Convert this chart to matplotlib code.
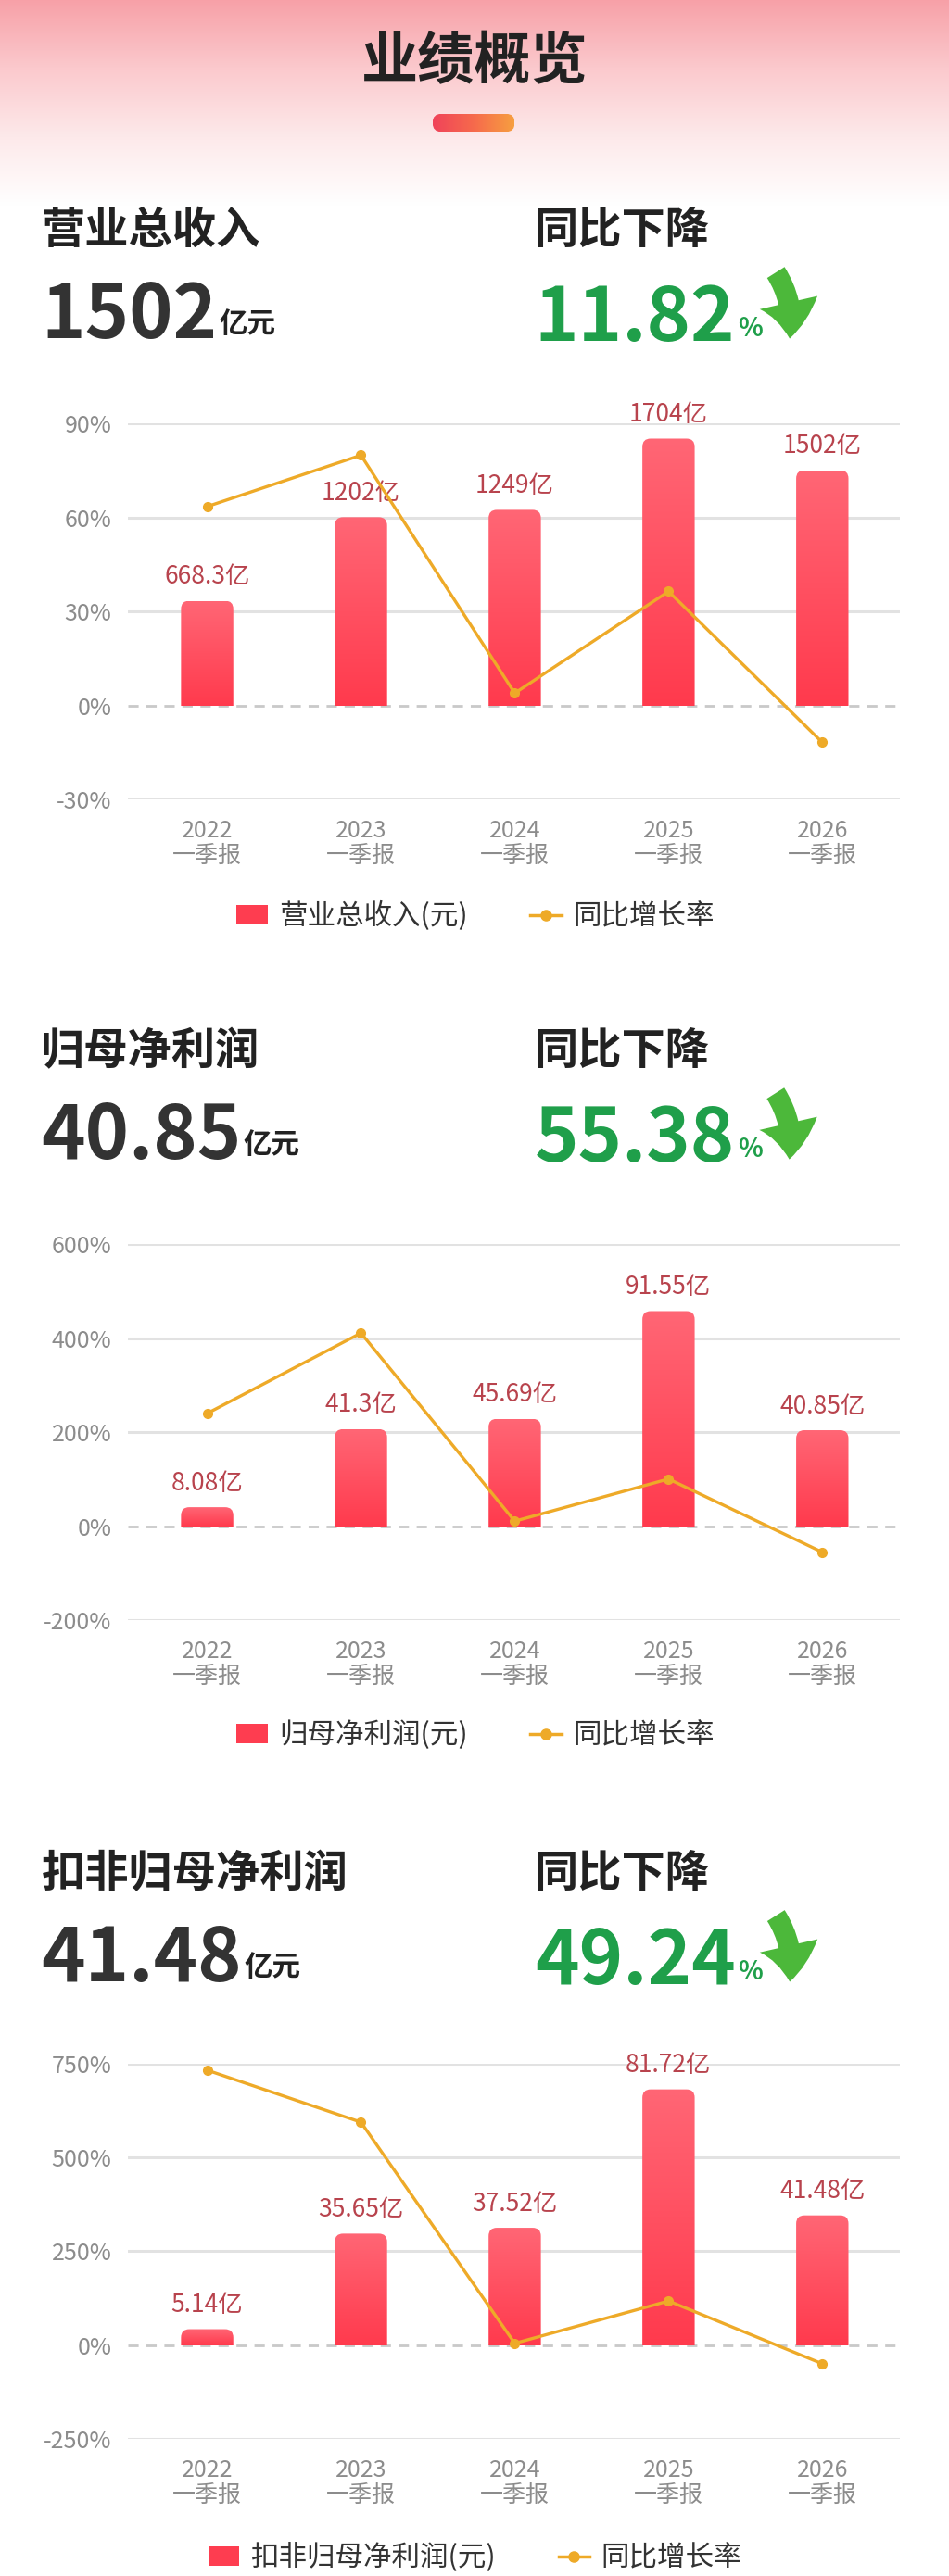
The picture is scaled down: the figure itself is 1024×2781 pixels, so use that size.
import numpy as np
import matplotlib
matplotlib.use('Agg')
import matplotlib.pyplot as plt
from matplotlib.colors import LinearSegmentedColormap
from matplotlib.patches import Patch, FancyBboxPatch, FancyArrowPatch
from matplotlib.lines import Line2D

plt.rcParams['font.family'] = ['Noto Sans CJK SC', 'DejaVu Sans']

# 数据
quarters = ['2022\n一季报', '2023\n一季报', '2024\n一季报', '2025\n一季报', '2026\n一季报']

revenue = [668.3, 1202, 1249, 1704, 1502]
revenue_labels = ['668.3亿', '1202亿', '1249亿', '1704亿', '1502亿']
revenue_yoy = [63.5, 79.9, 3.9, 36.4, -11.82]
revenue_ticks = [-30, 0, 30, 60, 90]

profit = [8.08, 41.3, 45.69, 91.55, 40.85]
profit_labels = ['8.08亿', '41.3亿', '45.69亿', '91.55亿', '40.85亿']
profit_yoy = [240, 411.1, 10.6, 100.4, -55.38]
profit_ticks = [-200, 0, 200, 400, 600]

deducted = [5.14, 35.65, 37.52, 81.72, 41.48]
deducted_labels = ['5.14亿', '35.65亿', '37.52亿', '81.72亿', '41.48亿']
deducted_yoy = [732, 593.6, 5.2, 117.8, -49.24]
deducted_ticks = [-250, 0, 250, 500, 750]

titles = ['营业总收入', '归母净利润', '扣非归母净利润']
values = ['1502', '40.85', '41.48']
changes = ['11.82', '55.38', '49.24']
legend_names = ['营业总收入(元)', '归母净利润(元)', '扣非归母净利润(元)']

# 参照图坐标 (577 x 1563) -> figure 比例
W, H = 577, 1563
def fx(x):
    return x / W
def fy(y):
    return 1 - y / H

RED = '#fe3d50'
ORANGE = '#eeaa28'
GREEN = '#1f9f4a'
GRAY = '#8c8c8c'

fig = plt.figure(figsize=(10.24, 27.81), dpi=100, facecolor='white')

# 顶部渐变背景
bg = fig.add_axes([0, fy(125), 1, 125 / H], zorder=0)
cmap_bg = LinearSegmentedColormap.from_list('bg', ['#f7a0a7', '#fbc9cd', '#fde9ea', '#ffffff'])
bg.imshow(np.linspace(0, 1, 256).reshape(-1, 1), aspect='auto', cmap=cmap_bg, extent=[0, 1, 0, 1])
bg.axis('off')

fig.text(0.5, fy(38), '业绩概览', fontsize=44, weight='bold', color='#222222', ha='center', va='center')

# 标题下方的小药丸
pax = fig.add_axes([fx(263), fy(80), fx(313) - fx(263), 11 / H], zorder=1)
cmap_pill = LinearSegmentedColormap.from_list('pill', ['#f0435a', '#f66a4c', '#f7a040'])
pim = pax.imshow(np.linspace(0, 1, 256).reshape(1, -1), aspect='auto', cmap=cmap_pill, extent=[0, 1, 0, 1])
pill = FancyBboxPatch((0, 0), 1, 1, boxstyle='round,pad=0,rounding_size=0.11',
                      mutation_aspect=50 / 11, transform=pax.transData, facecolor='none', edgecolor='none')
pax.add_patch(pill)
pim.set_clip_path(pill)
pax.set_xlim(0, 1)
pax.set_ylim(0, 1)
pax.axis('off')

renderer = fig.canvas.get_renderer()

def header(title, value, change, ytitle, ybase):
    fig.text(fx(25), fy(ytitle), title, fontsize=34, weight='bold', color='#222222', va='center')
    t = fig.text(fx(25), fy(ybase), value, fontsize=58, weight='bold', color='#333333', va='baseline')
    x_end = t.get_window_extent(renderer).x1 / fig.bbox.width
    fig.text(x_end + 0.002, fy(ybase - 3), '亿元', fontsize=22, weight='bold', color='#222222', va='baseline')

    fig.text(fx(325), fy(ytitle), '同比下降', fontsize=34, weight='bold', color='#222222', va='center')
    g = fig.text(fx(325), fy(ybase + 2), change, fontsize=58, weight='bold', color=GREEN, va='baseline')
    x_end = g.get_window_extent(renderer).x1 / fig.bbox.width
    p = fig.text(x_end + 0.003, fy(ybase - 1), '%', fontsize=20, weight='bold', color=GREEN, va='baseline')
    x_end = p.get_window_extent(renderer).x1 / fig.bbox.width
    arrow = FancyArrowPatch((x_end + fx(7), fy(ybase - 41)), (x_end + fx(16), fy(ybase + 2)),
                            transform=fig.transFigure, connectionstyle='arc3,rad=-0.2',
                            arrowstyle='simple,head_length=0.7,head_width=1.15,tail_width=0.4',
                            mutation_scale=40, color='#4cb83a', lw=0)
    fig.patches.append(arrow)

bar_cmap = LinearSegmentedColormap.from_list('bar', ['#ff6675', '#ff3a4d'])
grad = np.linspace(0, 1, 256).reshape(-1, 1)

def chart(vals, labels, yoy, ticks, bar_lim, legend_name, ytop, ybot, yleg):
    x0, x1 = 78, 547
    xlim = (-0.513, 4.503)
    ax = fig.add_axes([fx(x0), fy(ybot), fx(x1) - fx(x0), (ybot - ytop) / H])
    ax.set_xlim(xlim)
    ax.set_ylim(ticks[0], ticks[-1])
    for t in ticks:
        if t == 0:
            ax.axhline(0, color='#c9c9c9', lw=2, ls=(0, (4, 3)), zorder=1)
        else:
            ax.axhline(t, color='#e2e2e2', lw=2.2, zorder=1)
    ax.set_yticks(ticks)
    ax.set_yticklabels([f'{t}%' for t in ticks])
    ax.set_xticks(range(len(quarters)))
    ax.set_xticklabels(quarters)
    for lbl in ax.get_xticklabels():
        lbl.set_linespacing(1.05)
    ax.tick_params(axis='y', length=0, pad=13, labelsize=18, labelcolor=GRAY)
    ax.tick_params(axis='x', length=0, pad=15, labelsize=18, labelcolor=GRAY)
    for s in ax.spines.values():
        s.set_visible(False)

    # 柱状图 (副轴)
    axb = ax.twinx()
    axb.set_ylim(bar_lim)
    bars = axb.bar(range(len(vals)), vals, width=0.34, facecolor='none', edgecolor='none')
    px_x = (xlim[1] - xlim[0]) / (x1 - x0)
    px_y = (bar_lim[1] - bar_lim[0]) / (ybot - ytop)
    r = 5
    for rect in bars:
        bx, bw, bh = rect.get_x(), rect.get_width(), rect.get_height()
        clip = FancyBboxPatch((bx, -3 * r * px_y), bw, bh + 3 * r * px_y,
                              boxstyle=f'round,pad=0,rounding_size={r * px_x}',
                              mutation_aspect=px_y / px_x, transform=axb.transData,
                              facecolor='none', edgecolor='none')
        axb.add_patch(clip)
        im = axb.imshow(grad, extent=[bx, bx + bw, 0, bh], cmap=bar_cmap, aspect='auto', zorder=2)
        im.set_clip_path(clip)
    for i, (v, lab) in enumerate(zip(vals, labels)):
        axb.annotate(lab, (i, v), xytext=(0, 9), textcoords='offset points',
                     ha='center', va='bottom', fontsize=19, color='#b8434d')
    axb.set_xlim(xlim)
    axb.set_ylim(bar_lim)
    axb.axis('off')

    # 同比增长率折线
    axl = ax.twinx()
    axl.plot(range(len(yoy)), yoy, color=ORANGE, lw=2.4, marker='o', ms=7, clip_on=False)
    axl.set_xlim(xlim)
    axl.set_ylim(ticks[0], ticks[-1])
    axl.axis('off')

    handles = [Patch(facecolor=RED, edgecolor='none'),
               Line2D([0], [0], color=ORANGE, lw=2.5, marker='o', ms=8)]
    fig.legend(handles, [legend_name, '同比增长率'], loc='center',
               bbox_to_anchor=(fx(289), fy(yleg)), ncol=2, frameon=False, fontsize=22,
               handlelength=1.1, handleheight=0.7, handletextpad=0.4, columnspacing=2.2,
               labelcolor='#333333')

header(titles[0], values[0], changes[0], 140, 205)
chart(revenue, revenue_labels, revenue_yoy, revenue_ticks, (-600, 1800), legend_names[0], 257, 485, 556)

header(titles[1], values[1], changes[1], 638, 703)
chart(profit, profit_labels, profit_yoy, profit_ticks, (-40, 120), legend_names[1], 755, 983, 1053)

header(titles[2], values[2], changes[2], 1137, 1202)
chart(deducted, deducted_labels, deducted_yoy, deducted_ticks, (-30, 90), legend_names[2], 1252, 1480, 1552)

fig.savefig('out.png', dpi=100, facecolor='white')
